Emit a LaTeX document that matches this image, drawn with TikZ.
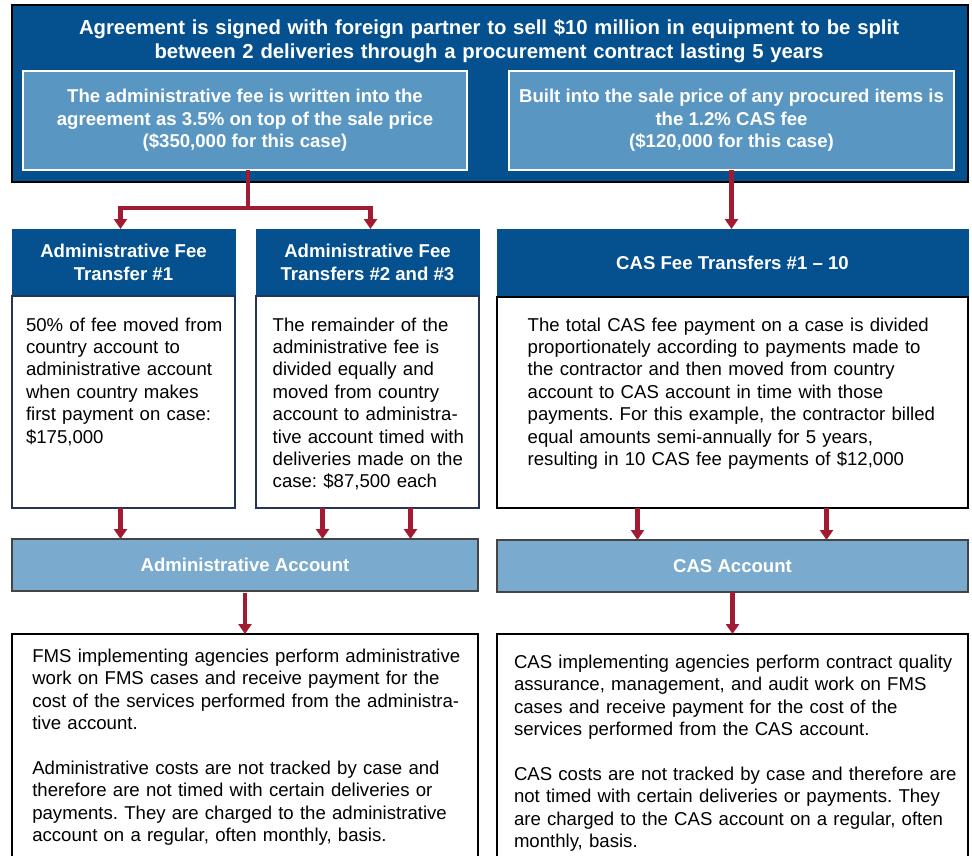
\documentclass[tikz,border=0pt]{standalone}
\usepackage{fontspec}
\setmainfont{Liberation Sans}
\usepackage{xcolor}
\usepackage{tikz}
\usetikzlibrary{calc,arrows.meta,positioning}

\definecolor{dsblue}{RGB}{5,80,143}
\definecolor{feeblue}{RGB}{90,150,194}
\definecolor{acctblue}{RGB}{122,170,205}
\definecolor{flowred}{RGB}{161,28,50}
\definecolor{edgenavy}{RGB}{38,52,88}
\definecolor{edgegray}{RGB}{68,68,68}

\newcommand{\bodysize}{\fontsize{18.6}{22.4}\selectfont}
\newcommand{\headsize}{\fontsize{18.6}{22.6}\selectfont\bfseries}
\frenchspacing

\begin{document}
\begin{tikzpicture}[x=1pt, y=-1pt,
    every node/.style={inner sep=0pt, outer sep=0pt},
    agreebox/.style={draw=black, line width=1.2pt, fill=dsblue, anchor=north west},
    feebox/.style={draw=white, line width=1.2pt, fill=feeblue, anchor=north west, text=white, align=center, font=\fontsize{18.6}{22.4}\selectfont\bfseries},
    headbox/.style={draw=dsblue, line width=1pt, fill=dsblue, anchor=north west, text=white, align=center, font=\headsize},
    bodybox/.style={draw=edgenavy, line width=1.6pt, fill=white, anchor=north west},
    bodytext/.style={anchor=base west, align=left, text width=#1, font=\bodysize},
    acctbox/.style={draw=edgegray, line width=1.6pt, fill=acctblue, anchor=north west, text=white, font=\headsize},
    notebox/.style={draw=black, line width=1.6pt, fill=white, anchor=north west},
    flow/.style={draw=flowred, line width=4.2pt, -{Triangle[width=13pt,length=10pt]}},
]

\path[use as bounding box, clip] (0,0) rectangle (972,856);

% Agreement box with title
\node[agreebox, minimum width=956, minimum height=177] (agree) at (12,5) {};
\node[text=white, font=\fontsize{20.3}{24.6}\selectfont\bfseries, text width=940, align=center, anchor=base] (agreetitle) at (489,34.3) {
    Agreement is signed with foreign partner to sell \$10 million in equipment to be split\\
    between 2 deliveries through a procurement contract lasting 5 years};

% The two fees
\node[feebox, minimum width=444, minimum height=99] (adminfee) at (23,71) {
    The administrative fee is written into the\\
    agreement as 3.5\% on top of the sale price\\
    (\$350,000 for this case)};
\node[feebox, minimum width=445, minimum height=99] (casfee) at (509,71) {
    Built into the sale price of any procured items is\\
    the 1.2\% CAS fee\\
    (\$120,000 for this case)};

% Transfer headers
\node[headbox, minimum width=223, minimum height=67] (xfer1head) at (12,229) {Administrative Fee\\Transfer \#1};
\node[headbox, minimum width=223, minimum height=67] (xfer23head) at (256,229) {Administrative Fee\\Transfers \#2 and \#3};
\node[headbox, minimum width=471, minimum height=68] (casxferhead) at (497,229) {CAS Fee Transfers \#1 – 10};

% Transfer bodies
\node[bodybox, minimum width=223, minimum height=212] (xfer1body) at (12,296) {};
\node[bodybox, minimum width=223, minimum height=212] (xfer23body) at (256,296) {};
\node[bodybox, draw=black, minimum width=471, minimum height=211] (casxferbody) at (497,297) {};

\node[bodytext=205] (xfer1text) at (26,331) {
    50\% of fee moved from\\
    country account to\\
    administrative account\\
    when country makes\\
    first payment on case:\\
    \$175,000};
\node[bodytext=205] (xfer23text) at (272.7,331) {
    The remainder of the\\
    administrative fee is\\
    divided equally and\\
    moved from country\\
    account to administra-\\
    tive account timed with\\
    deliveries made on the\\
    case: \$87,500 each};
\node[bodytext=430] (casxfertext) at (527.7,331) {
    The total CAS fee payment on a case is divided\\
    proportionately according to payments made to\\
    the contractor and then moved from country\\
    account to CAS account in time with those\\
    payments. For this example, the contractor billed\\
    equal amounts semi-annually for 5 years,\\
    resulting in 10 CAS fee payments of \$12,000};

% Accounts
\node[acctbox, minimum width=466, minimum height=52] (adminacct) at (12,539) {Administrative Account};
\node[acctbox, minimum width=471, minimum height=52] (casacct) at (497,540) {CAS Account};

% What the accounts pay for
\node[notebox, minimum width=466, minimum height=260] (adminnote) at (12,634) {};
\node[notebox, minimum width=471, minimum height=260] (casnote) at (497,634) {};

\node[bodytext=440] (adminnotetext) at (32.3,662.3) {
    FMS implementing agencies perform administrative\\
    work on FMS cases and receive payment for the\\
    cost of the services performed from the administra-\\
    tive account.\\[22.4pt]
    Administrative costs are not tracked by case and\\
    therefore are not timed with certain deliveries or\\
    payments. They are charged to the administrative\\
    account on a regular, often monthly, basis.};
\node[bodytext=450] (casnotetext) at (514,668.3) {
    CAS implementing agencies perform contract quality\\
    assurance, management, and audit work on FMS\\
    cases and receive payment for the cost of the\\
    services performed from the CAS account.\\[22.4pt]
    CAS costs are not tracked by case and therefore are\\
    not timed with certain deliveries or payments. They\\
    are charged to the CAS account on a regular, often\\
    monthly, basis.};

% Fee flows
\draw[flow] ([xshift=3]adminfee.south) -- ++(0,38) -| ([xshift=-3]xfer1head.north);
\draw[flow] ([xshift=3]adminfee.south) -- ++(0,38) -| ([xshift=3]xfer23head.north);
\draw[flow] (casfee.south) -- (casfee.south |- casxferhead.north);

\draw[flow] ([xshift=-3]xfer1body.south) -- ([xshift=-3]xfer1body.south |- adminacct.north);
\draw[flow] ([xshift=-45]xfer23body.south) -- ([xshift=-45]xfer23body.south |- adminacct.north);
\draw[flow] ([xshift=43]xfer23body.south) -- ([xshift=43]xfer23body.south |- adminacct.north);
\draw[flow] ([xshift=-95]casxferbody.south) -- ([xshift=-95]casxferbody.south |- casacct.north);
\draw[flow] ([xshift=94]casxferbody.south) -- ([xshift=94]casxferbody.south |- casacct.north);

\draw[flow] ([yshift=-2]adminacct.south) -- (adminnote.north);
\draw[flow] (casacct.south) -- (casnote.north);

\end{tikzpicture}
\end{document}
